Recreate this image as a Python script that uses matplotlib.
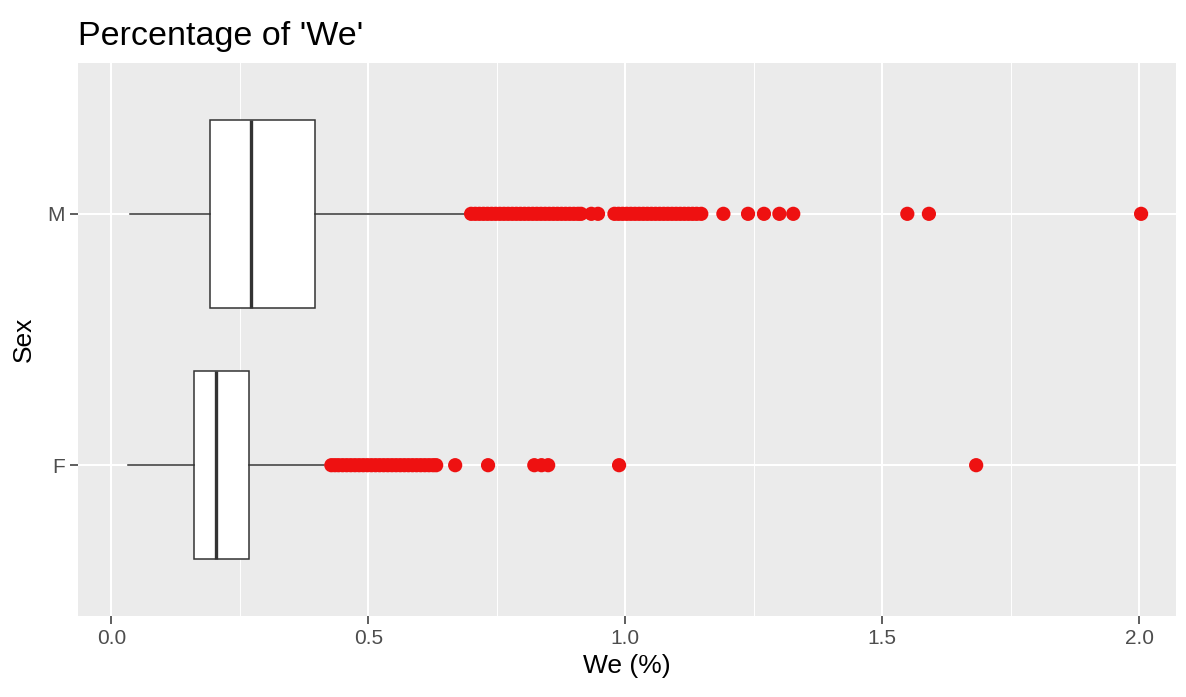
import numpy as np
import matplotlib.pyplot as plt

plt.rcParams['font.family'] = ['Liberation Sans', 'DejaVu Sans']

# categorias y estadisticos de las cajas
sexo = ['F', 'M']
bigote_inf = [0.033, 0.037]
q1 = [0.160, 0.191]
mediana = [0.204, 0.272]
q3 = [0.268, 0.397]
bigote_sup = [0.414, 0.700]

# valores atipicos (rojo)
outliers_F = [0.428, 0.435, 0.442, 0.450, 0.458, 0.466, 0.474, 0.482, 0.490,
              0.498, 0.506, 0.514, 0.522, 0.530, 0.538, 0.546, 0.554, 0.562,
              0.570, 0.578, 0.586, 0.594, 0.602, 0.610, 0.618, 0.626, 0.632,
              0.669, 0.733, 0.823, 0.837, 0.850, 0.988, 1.683]
outliers_M = [0.700, 0.708, 0.716, 0.724, 0.732, 0.740, 0.748, 0.756, 0.764,
              0.772, 0.780, 0.788, 0.796, 0.804, 0.812, 0.820, 0.828, 0.836,
              0.844, 0.852, 0.860, 0.868, 0.876, 0.884, 0.892, 0.900, 0.908,
              0.914, 0.934, 0.947, 0.979, 0.987, 0.995, 1.003, 1.011, 1.019,
              1.027, 1.035, 1.043, 1.051, 1.059, 1.067, 1.075, 1.083, 1.091,
              1.099, 1.107, 1.115, 1.123, 1.131, 1.139, 1.148, 1.191, 1.239,
              1.270, 1.300, 1.327, 1.549, 1.591, 2.004]
outliers = [outliers_F, outliers_M]

xticks = [0.0, 0.5, 1.0, 1.5, 2.0]
xticklabels = ['0.0', '0.5', '1.0', '1.5', '2.0']

fig = plt.figure(figsize=(11.86, 6.97), dpi=100)
ax = fig.add_axes([0.0658, 0.1162, 0.9258, 0.7934])
ax.set_facecolor('#EBEBEB')

stats = []
for i in range(len(sexo)):
    stats.append({'whislo': bigote_inf[i], 'q1': q1[i], 'med': mediana[i],
                  'q3': q3[i], 'whishi': bigote_sup[i], 'label': sexo[i]})

ax.bxp(stats, positions=[1, 2], widths=0.75, orientation='horizontal',
       showfliers=False, showcaps=False, patch_artist=True,
       boxprops=dict(facecolor='white', edgecolor='#333333', linewidth=1.1),
       medianprops=dict(color='#333333', linewidth=2.4),
       whiskerprops=dict(color='#333333', linewidth=1.1), zorder=3)

for i in range(len(sexo)):
    ax.scatter(outliers[i], [i + 1] * len(outliers[i]), s=105, color='#EE1111',
               edgecolors='none', zorder=4)

ax.set_xlim(-0.065, 2.072)
ax.set_ylim(0.4, 2.6)
ax.set_xticks(xticks)
ax.set_xticklabels(xticklabels)
ax.set_xticks([0.25, 0.75, 1.25, 1.75], minor=True)
ax.set_yticks([1, 2])
ax.set_yticklabels(sexo)

ax.grid(which='major', color='white', linewidth=1.5)
ax.grid(which='minor', axis='x', color='white', linewidth=0.7)
ax.set_axisbelow(True)
for s in ax.spines.values():
    s.set_visible(False)

ax.tick_params(axis='both', which='major', length=5.5, width=1.1, color='#333333',
               labelcolor='#4D4D4D', labelsize=15, pad=4)
ax.tick_params(which='minor', length=0)

ax.set_title("Percentage of 'We'", loc='left', fontsize=24.5, pad=13)
ax.set_xlabel('We (%)', fontsize=19, labelpad=4)
ax.set_ylabel('Sex', fontsize=19, labelpad=8)

fig.savefig('out.png', dpi=100)
